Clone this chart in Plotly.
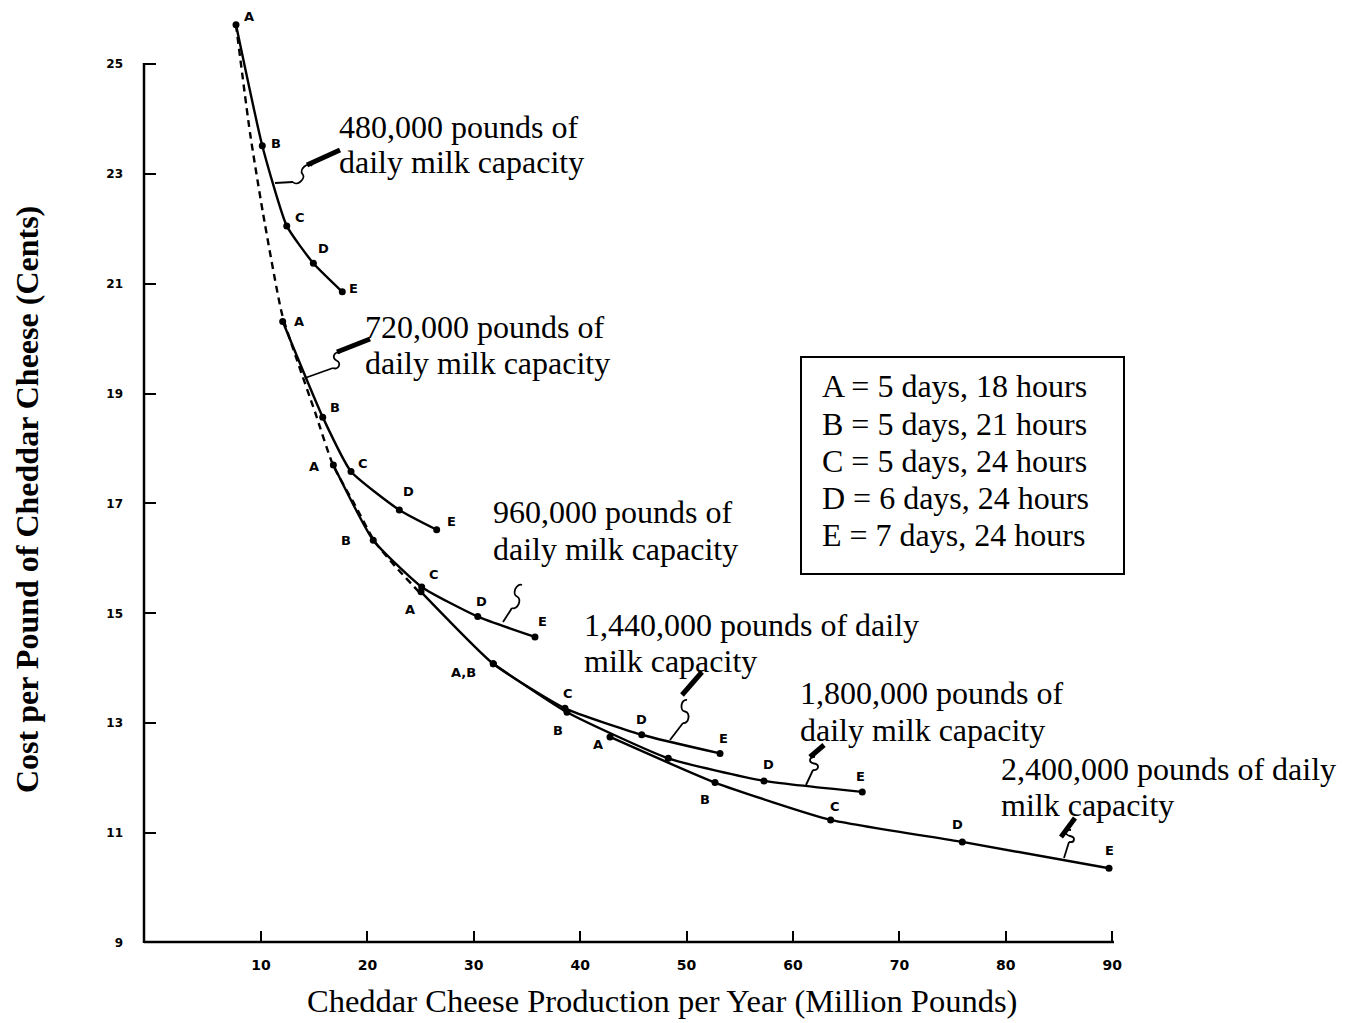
import math
import plotly.graph_objects as go

# ---------------- data ----------------
point_letters = ["A", "B", "C", "D", "E"]

cap480_x = [7.65, 10.12, 12.42, 14.92, 17.64]
cap480_y = [25.71, 23.51, 22.05, 21.37, 20.85]
cap720_x = [12.04, 15.80, 18.46, 23.00, 26.51]
cap720_y = [20.31, 18.57, 17.58, 16.88, 16.52]
cap960_x = [16.80, 20.55, 25.10, 30.37, 35.75]
cap960_y = [17.70, 16.33, 15.48, 14.94, 14.57]
cap1440_x = [25.04, 31.83, 38.57, 45.78, 53.14]
cap1440_y = [15.39, 14.08, 13.27, 12.79, 12.45]
cap1800_x = [31.83, 38.76, 48.28, 57.27, 66.51]
cap1800_y = [14.08, 13.20, 12.36, 11.95, 11.75]
cap2400_x = [42.80, 52.67, 63.54, 75.91, 89.70]
cap2400_y = [12.75, 11.92, 11.24, 10.84, 10.36]

envelope_x = [7.65, 8.97, 10.19, 11.97, 13.38, 15.08, 16.77, 18.83, 20.71, 22.59, 24.94]
envelope_y = [25.71, 23.74, 22.28, 20.45, 19.61, 18.66, 17.70, 16.97, 16.30, 15.86, 15.37]

labels480 = ["A", "B", "C", "D", "E"]
labels720 = ["A", "B", "C", "D", "E"]
labels960 = ["A", "B", "C", "D", "E"]
labels1440 = ["A", "", "C", "D", "E"]
labels1800 = ["A,B", "B", "", "D", "E"]
labels2400 = ["A", "B", "C", "D", "E"]

x_tick_vals = [10, 20, 30, 40, 50, 60, 70, 80, 90]
y_tick_vals = [9, 11, 13, 15, 17, 19, 21, 23, 25]

capacity_line1 = ["480,000 pounds of", "720,000 pounds of", "960,000 pounds of",
                  "1,440,000 pounds of daily", "1,800,000 pounds of", "2,400,000 pounds of daily"]
capacity_line2 = ["daily milk capacity", "daily milk capacity", "daily milk capacity",
                  "milk capacity", "daily milk capacity", "milk capacity"]

legend_lines = ["A = 5 days, 18 hours", "B = 5 days, 21 hours", "C = 5 days, 24 hours",
                "D = 6 days, 24 hours", "E = 7 days, 24 hours"]

x_title = "Cheddar Cheese Production per Year (Million Pounds)"
y_title = "Cost per Pound of Cheddar Cheese (Cents)"

# ---------------- layout geometry ----------------
FIG_W, FIG_H = 1349, 1023
L, B = 144, 80
PLOT_W = FIG_W - L
PLOT_H = FIG_H - B
X0_PX, X_PER = 154.6, 10.64      # pixel of x=0, pixels per unit
Y17_PX, Y_PER = 503.4, 54.95     # pixel of y=17, pixels per unit


def X(px):
    return (px - X0_PX) / X_PER


def Y(py):
    return 17 + (Y17_PX - py) / Y_PER


def PX(px):
    return (px - L) / PLOT_W


def PY(py):
    return (PLOT_H - py) / PLOT_H


SERIF = "Liberation Serif, Times New Roman, serif"
SANS = "DejaVu Sans, Arial, sans-serif"

fig = go.Figure()

# dashed envelope
fig.add_trace(go.Scatter(x=envelope_x, y=envelope_y, mode="lines",
                         line=dict(color="black", width=2.4, dash="7px,5px", shape="spline",
                                   smoothing=0.6),
                         hoverinfo="skip", showlegend=False))

curves = [
    (cap480_x, cap480_y, labels480, [(13, -8), (14, -2), (13, -8), (10, -15), (11, -3)]),
    (cap720_x, cap720_y, labels720, [(16, 0), (12, -10), (12, -8), (9, -18), (15, -8)]),
    (cap960_x, cap960_y, labels960, [(-19, 2), (-27, 0), (12, -12), (4, -15), (8, -15)]),
    (cap1440_x, cap1440_y, labels1440, [(-11, 18), (0, 0), (3, -15), (0, -15), (3, -15)]),
    (cap1800_x, cap1800_y, labels1800, [(-30, 9), (-9, 18), (0, 0), (5, -16), (-2, -15)]),
    (cap2400_x, cap2400_y, labels2400, [(-12, 8), (-10, 17), (4, -13), (-5, -17), (0, -18)]),
]

annotations = []
for xs, ys, labs, offs in curves:
    fig.add_trace(go.Scatter(x=xs, y=ys, mode="lines+markers",
                             line=dict(color="black", width=2.4, shape="spline", smoothing=0.5),
                             marker=dict(color="black", size=7),
                             hoverinfo="skip", showlegend=False, cliponaxis=False))
    for xv, yv, lab, (dx, dy) in zip(xs, ys, labs, offs):
        if not lab:
            continue
        annotations.append(dict(x=xv, y=yv, xref="x", yref="y", text=lab, showarrow=False,
                                xshift=dx, yshift=-dy,
                                font=dict(family=SANS, size=13, color="black", weight="bold")))

# capacity labels (left x, centre y of line 1, centre y of line 2) in pixels
cap_label_pos = [(337, 127, 162), (363, 327, 363), (491, 512, 549),
                 (582, 625, 661), (798, 693, 730), (999, 769, 805)]
for (lx, y1, y2), t1, t2 in zip(cap_label_pos, capacity_line1, capacity_line2):
    for yy, tt in ((y1, t1), (y2, t2)):
        annotations.append(dict(x=PX(lx), y=PY(yy), xref="paper", yref="paper", text=tt,
                                showarrow=False, xanchor="left", yanchor="middle",
                                font=dict(family=SERIF, size=32, color="black")))

# legend box text
legend_y = [386, 424, 461, 498, 535]
for yy, tt in zip(legend_y, legend_lines):
    annotations.append(dict(x=PX(820), y=PY(yy), xref="paper", yref="paper", text=tt,
                            showarrow=False, xanchor="left", yanchor="middle",
                            font=dict(family=SERIF, size=32, color="black")))

# axis titles
annotations.append(dict(x=PX(662), y=PY(1001), xref="paper", yref="paper", text=x_title,
                        showarrow=False, xanchor="center", yanchor="middle",
                        font=dict(family=SERIF, size=32.5, color="black")))
annotations.append(dict(x=PX(27), y=PY(500), xref="paper", yref="paper", text=y_title,
                        showarrow=False, xanchor="center", yanchor="middle", textangle=-90,
                        font=dict(family=SERIF, size=32, color="black", weight="bold")))

shapes = []
# axis lines
shapes.append(dict(type="line", xref="paper", yref="paper", x0=PX(144), x1=PX(1114),
                   y0=PY(942), y1=PY(942), line=dict(color="black", width=2.5)))
shapes.append(dict(type="line", xref="paper", yref="paper", x0=PX(144), x1=PX(144),
                   y0=PY(943), y1=PY(63), line=dict(color="black", width=2.5)))
# legend box
shapes.append(dict(type="rect", xref="paper", yref="paper", x0=PX(801), x1=PX(1124),
                   y0=PY(574), y1=PY(357), line=dict(color="black", width=2)))


def ppath(points_px, cmds):
    out = []
    for c, pts in zip(cmds, points_px):
        coords = " ".join(f"{PX(px):.5f},{PY(py):.5f}" for px, py in pts)
        out.append(f"{c} {coords}")
    return " ".join(out)


def squiggle(base, top, w=6):
    bx, by = base
    tx, ty = top
    dx, dy = tx - bx, ty - by
    ln = math.hypot(dx, dy) or 1
    nx, ny = -dy / ln * w, dx / ln * w
    mx, my = (bx + tx) / 2, (by + ty) / 2
    return ppath([[base], [(bx + nx, by + ny), (mx + nx, my + ny), (mx, my)],
                  [(mx - nx, my - ny), (tx - nx, ty - ny), top]], ["M", "C", "C"])


# pointers: tip on curve, squiggle base, squiggle top, thick bar (start, end) in pixels
pointers = [
    ((275, 183), (293, 182), (312, 166), ((307, 165), (340, 150))),
    ((305, 378), (333, 368), (340, 353), ((337, 352), (370, 339))),
    ((503, 622), (512, 608), (522, 585), None),
    ((670, 740), (683, 723), (687, 700), ((682, 695), (702, 672))),
    ((806, 785), (813, 770), (815, 757), ((810, 757), (824, 745))),
    ((1064, 858), (1069, 842), (1071, 830), ((1061, 837), (1075, 818))),
]
for tip, sb, st, bar in pointers:
    shapes.append(dict(type="path", xref="paper", yref="paper",
                       path=ppath([[tip], [sb]], ["M", "L"]),
                       line=dict(color="black", width=1.8)))
    shapes.append(dict(type="path", xref="paper", yref="paper", path=squiggle(sb, st),
                       line=dict(color="black", width=1.8)))
    if bar:
        (b0x, b0y), (b1x, b1y) = bar
        shapes.append(dict(type="line", xref="paper", yref="paper",
                           x0=PX(b0x), y0=PY(b0y), x1=PX(b1x), y1=PY(b1y),
                           line=dict(color="black", width=5)))

fig.update_layout(
    width=FIG_W, height=FIG_H,
    margin=dict(l=L, r=0, t=0, b=B, pad=0),
    paper_bgcolor="white", plot_bgcolor="white",
    showlegend=False,
    annotations=annotations,
    shapes=shapes,
    xaxis=dict(range=[X(L), X(FIG_W)], tickvals=x_tick_vals,
               ticktext=[str(v) for v in x_tick_vals],
               ticks="inside", ticklen=12, tickwidth=2, tickcolor="black",
               showline=False, showgrid=False, zeroline=False,
               ticklabelstandoff=12,
               tickfont=dict(family=SANS, size=14, color="black", weight="bold")),
    yaxis=dict(range=[Y(PLOT_H), Y(0)], tickvals=y_tick_vals,
               ticktext=[str(v) for v in y_tick_vals],
               ticks="inside", ticklen=12, tickwidth=2, tickcolor="black",
               showline=False, showgrid=False, zeroline=False,
               ticklabelstandoff=20,
               tickfont=dict(family=SANS, size=12, color="black", weight="bold")),
)

fig.write_html("out.html", config={"displayModeBar": False},
               post_script="document.body.style.margin='0';document.body.style.overflow='hidden';")
